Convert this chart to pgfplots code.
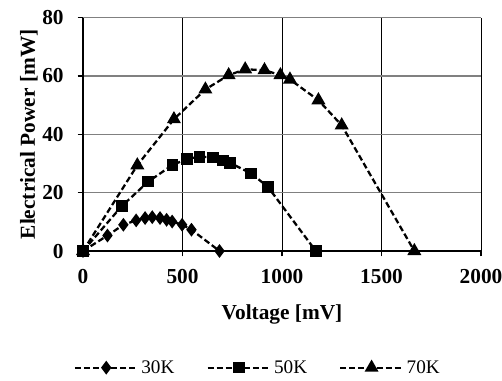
\documentclass[border=0pt]{standalone}
\usepackage{fontspec}
\setmainfont{Liberation Serif}
\usepackage{pgfplots}
\pgfplotsset{compat=1.18}
\begin{document}
\begin{tikzpicture}[x=1pt,y=1pt]
\path[use as bounding box] (-62.25,-96.75) rectangle (314.25,188.25);
\begin{axis}[
  at={(0,0)}, anchor=south west,
  scale only axis, width=298.5pt, height=175pt,
  xmin=0, xmax=2000, ymin=0, ymax=80,
  xtick={0,500,1000,1500,2000}, ytick={0,20,40,60,80},
  axis lines=left, axis line style={-, line width=1.5pt, black},
  grid=major,
  x grid style={line width=0.7pt, black},
  y grid style={line width=0.9pt, black!50},
  tick align=outside, major tick length=4pt, tick style={line width=0.8pt, black},
  ticklabel style={font=\fontsize{16}{18}\selectfont\bfseries},
  xticklabel style={anchor=center, yshift=-15.3pt},
  yticklabel style={anchor=east, xshift=-7pt},
  /pgf/number format/assume math mode=true,
  /pgf/number format/1000 sep={},
  xlabel={Voltage [mV]}, ylabel={Electrical Power [mW]},
  label style={font=\fontsize{16}{18}\selectfont\bfseries},
  xlabel style={at={(axis description cs:0.5,-0.27)}, anchor=center},
  ylabel style={at={(axis description cs:-0.1357,0.5)}, anchor=center},
  legend style={at={(axis description cs:0.44,-0.50)}, anchor=center, draw=none, legend columns=3,
    inner sep=0pt,
    font=\fontsize{14.4}{16}\selectfont, /tikz/every even column/.append style={column sep=22pt},
    nodes={inner sep=2pt}},
  legend image code/.code={\draw[mark repeat=2,mark phase=2,#1] plot coordinates {(0pt,0pt)(23.5pt,0pt)(47pt,0pt)};},
  every axis plot/.append style={black, line width=1.7pt, dash pattern=on 4.5pt off 2.3pt},
  clip=false,
]
\addplot[mark=diamond*, mark size=3.8pt, mark options={solid}] coordinates {
(0,0)(123,5.3)(203,9.0)(267,10.5)(312,11.3)(348,11.6)(387,11.3)(420,10.7)(448,10.1)(498,9.0)(545,7.3)(686,0)};
\addlegendentry{30K}
\addplot[mark=square*, mark size=3.5pt, mark options={solid}] coordinates {
(0,0)(195,15.4)(328,23.8)(450,29.5)(524,31.6)(585,32.3)(652,32.1)(702,31.1)(739,30.2)(845,26.6)(929,22)(1170,0)};
\addlegendentry{50K}
\addplot[mark=triangle*, mark size=4.4pt, mark options={solid}] coordinates {
(0,0)(273,29.4)(457,45.2)(615,55.4)(732,60.3)(815,62.3)(912,62)(992,60.3)(1040,58.8)(1183,51.7)(1300,43.1)(1665,0)};
\addlegendentry{70K}
\end{axis}
\end{tikzpicture}
\end{document}
